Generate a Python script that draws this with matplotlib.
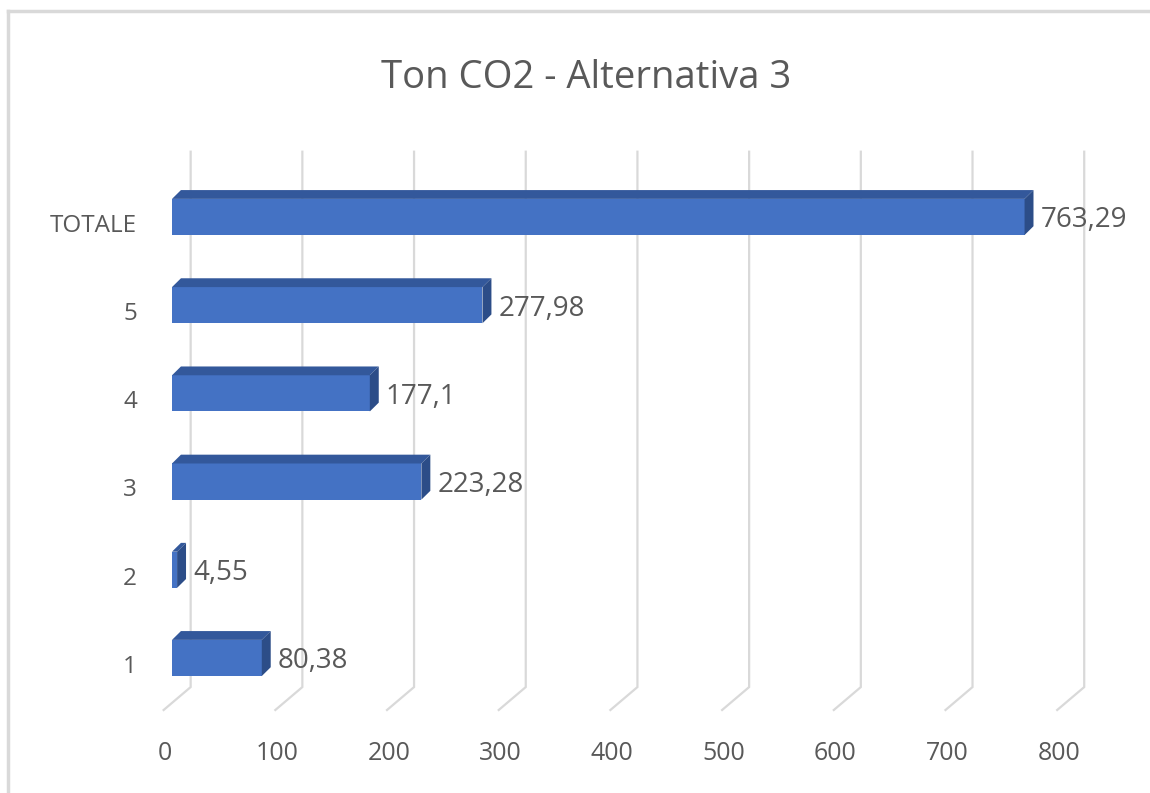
import matplotlib
matplotlib.use('Agg')
import matplotlib.pyplot as plt
from matplotlib.patches import Polygon
from matplotlib.lines import Line2D

# data
categories = ['1', '2', '3', '4', '5', 'TOTALE']
values = [80.38, 4.55, 223.28, 177.1, 277.98, 763.29]
value_labels = ['80,38', '4,55', '223,28', '177,1', '277,98', '763,29']
ticks = [0, 100, 200, 300, 400, 500, 600, 700, 800]

plt.rcParams['font.family'] = ['Open Sans', 'DejaVu Sans']
text_color = '#595959'
grid_color = '#D9D9D9'

fig = plt.figure(figsize=(11.5, 7.93), dpi=100)
ax = fig.add_axes([0, 0, 1, 1])
# one axes over the whole figure, so the fake 3D pieces line up
ax.set_xlim(-154.0, 875.6)
ax.set_ylim(-1.531, 7.46)
ax.axis('off')

# 3D look: depth offsets in data units
dx, dy = 8.0, 0.10
bar_h = 0.41
back = 16.7

# back wall gridlines with floor slant
for t in ticks:
    ax.plot([t + back, t + back, t - 7.5], [5.74, -0.33, -0.59],
            color=grid_color, lw=1.6, zorder=1, solid_joinstyle='miter')
    ax.text(t - 6, -1.08, str(t), ha='center', va='center',
            fontsize=18, color=text_color)

ypos = list(range(len(categories)))
ax.barh(ypos, values, height=bar_h, left=0, color='#4472C4', zorder=3)

for y, v, lab, cat in zip(ypos, values, value_labels, categories):
    top = y + bar_h / 2
    bot = y - bar_h / 2
    ax.add_patch(Polygon([(0, top), (v, top), (v + dx, top + dy), (dx, top + dy)],
                         closed=True, color='#33589B', zorder=3, lw=0))
    ax.add_patch(Polygon([(v, bot), (v + dx, bot + dy), (v + dx, top + dy), (v, top)],
                         closed=True, color='#2C4D88', zorder=3, lw=0))
    ax.text(v + dx + 6.3, y - 0.04, lab, ha='left', va='center',
            fontsize=20, color=text_color)
    ax.text(-31.3, y - 0.1, cat, ha='right', va='center',
            fontsize=17.5, color=text_color)

fig.text(0.51, 1 - 88 / 793, 'Ton CO2 - Alternativa 3', ha='center', va='baseline',
         fontsize=27.5, color=text_color)

# chart frame (only top and left edges are visible in the crop)
fig.add_artist(Line2D([8 / 1150, 1], [1 - 11 / 793, 1 - 11 / 793],
                      transform=fig.transFigure, color=grid_color, lw=2.5))
fig.add_artist(Line2D([8 / 1150, 8 / 1150], [0, 1 - 11 / 793],
                      transform=fig.transFigure, color=grid_color, lw=2.5))

fig.savefig('out.png', dpi=100, facecolor='white')
